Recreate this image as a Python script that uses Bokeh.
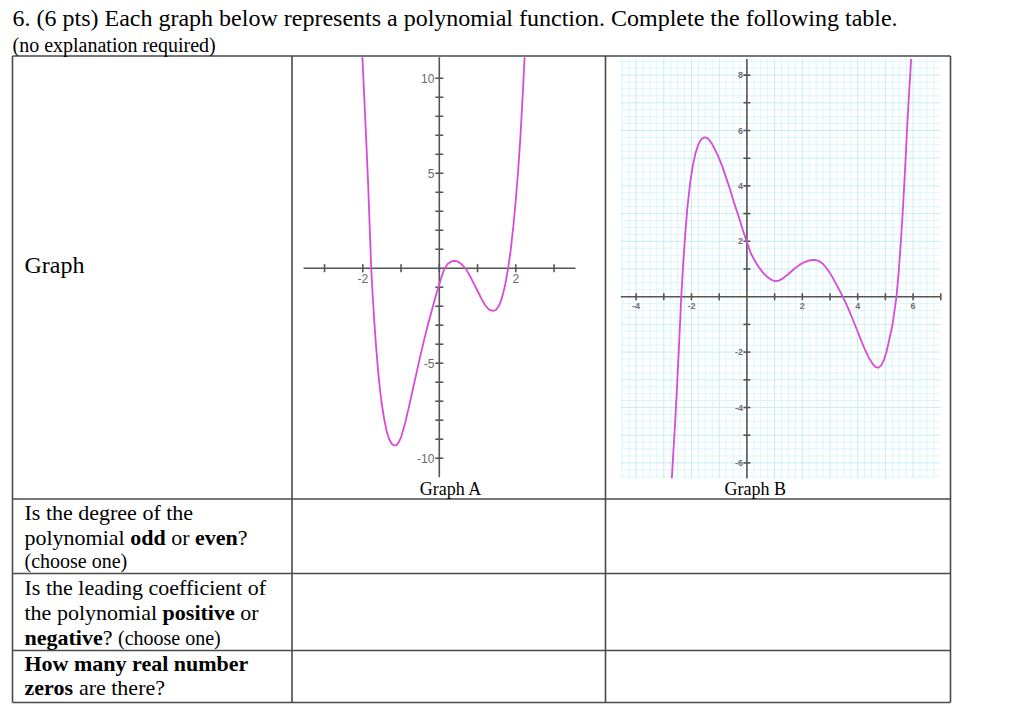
import numpy as np
from bokeh.plotting import figure
from bokeh.models import Range1d
from bokeh.core.properties import value
from bokeh.embed import file_html
from bokeh.resources import INLINE

W, H = 1023, 717

# ---------------- data ----------------
# Graph A (even degree polynomial)
graph_a_x = [-2.01, -1.96, -1.91, -1.86, -1.82, -1.78, -1.74, -1.70, -1.65, -1.60,
             -1.55, -1.50, -1.44, -1.38, -1.31, -1.24, -1.18, -1.12, -1.06, -1.00,
             -0.90, -0.80, -0.70, -0.60, -0.50, -0.40, -0.30, -0.20, -0.10, 0.00,
             0.07, 0.14, 0.22, 0.30, 0.38, 0.46, 0.54, 0.62, 0.70, 0.80,
             0.90, 1.00, 1.10, 1.20, 1.30, 1.40, 1.48, 1.56, 1.64, 1.72,
             1.80, 1.87, 1.94, 2.00, 2.06, 2.12, 2.17, 2.23]
graph_a_y = [11.1, 8.9, 6.7, 4.4, 2.2, 0.0, -1.5, -2.8, -4.2, -5.4,
             -6.4, -7.2, -7.95, -8.55, -9.0, -9.25, -9.33, -9.32, -9.15, -8.9,
             -8.2, -7.35, -6.45, -5.55, -4.65, -3.8, -3.0, -2.25, -1.5, -0.84,
             -0.38, 0.0, 0.22, 0.34, 0.38, 0.37, 0.28, 0.13, -0.05, -0.4,
             -0.8, -1.2, -1.6, -1.95, -2.18, -2.25, -2.2, -1.98, -1.55, -0.9,
             0.0, 1.0, 2.3, 3.6, 5.1, 6.9, 8.7, 11.1]

# Graph B (odd degree polynomial)
graph_b_x = [-2.71, -2.66, -2.60, -2.53, -2.45, -2.37, -2.30, -2.23, -2.15, -2.05,
             -1.95, -1.85, -1.75, -1.65, -1.55, -1.45, -1.35, -1.25, -1.15, -1.05,
             -0.90, -0.75, -0.60, -0.45, -0.30, -0.15, 0.00, 0.15, 0.30, 0.45,
             0.60, 0.75, 0.90, 1.02, 1.15, 1.30, 1.50, 1.70, 1.90, 2.10,
             2.30, 2.45, 2.60, 2.75, 2.90, 3.05, 3.20, 3.35, 3.50, 3.65,
             3.80, 3.95, 4.10, 4.25, 4.40, 4.55, 4.65, 4.75, 4.85, 4.95,
             5.05, 5.15, 5.25, 5.33, 5.40, 5.48, 5.56, 5.64, 5.72, 5.80,
             5.87, 5.93]
graph_b_y = [-6.56, -5.7, -4.7, -3.4, -1.75, 0.0, 1.2, 2.2, 3.2, 4.1,
             4.75, 5.2, 5.5, 5.68, 5.75, 5.74, 5.65, 5.5, 5.3, 5.1,
             4.74, 4.3, 3.85, 3.35, 2.9, 2.42, 1.97, 1.55, 1.27, 1.04,
             0.84, 0.7, 0.6, 0.56, 0.58, 0.66, 0.82, 1.0, 1.15, 1.26,
             1.32, 1.33, 1.29, 1.18, 1.0, 0.77, 0.5, 0.22, -0.08, -0.4,
             -0.76, -1.14, -1.52, -1.88, -2.2, -2.44, -2.54, -2.56, -2.48, -2.28,
             -1.95, -1.5, -1.05, -0.5, 0.0, 0.9, 2.0, 3.3, 4.8, 6.4,
             7.6, 8.58]

a_xtick_pos = [-2, 2]
a_xtick_labels = ["-2", "2"]
a_ytick_pos = [10, 5, -5, -10]
a_ytick_labels = ["10", "5", "-5", "-10"]

b_xtick_pos = [-4, -2, 2, 4, 6]
b_xtick_labels = ["-4", "-2", "2", "4", "6"]
b_ytick_pos = [8, 6, 4, 2, -2, -4, -6]
b_ytick_labels = ["8", "6", "4", "2", "-2", "-4", "-6"]

# ---------------- page figure ----------------
p = figure(width=W, height=H, x_range=Range1d(0, W), y_range=Range1d(H, 0),
           output_backend="svg", toolbar_location=None, min_border=0,
           x_axis_type=None, y_axis_type=None, outline_line_color=None,
           background_fill_color="white", border_fill_color="white")

# graph coordinate systems: origin pixel and pixels per unit
AOX, AOY, ASX, ASY = 438.8, 267.7, 38.25, 19.0
BOX, BOY, BS = 746.4, 296.2, 27.7
p.extra_x_ranges = {
    "ax": Range1d((0 - AOX) / ASX, (W - AOX) / ASX),
    "bx": Range1d((0 - BOX) / BS, (W - BOX) / BS),
}
p.extra_y_ranges = {
    "ay": Range1d((AOY - H) / ASY, AOY / ASY),
    "by": Range1d((BOY - H) / BS, BOY / BS),
}
A = dict(x_range_name="ax", y_range_name="ay")
B = dict(x_range_name="bx", y_range_name="by")

# ---- Graph B grid ----
gx0, gx1, gy0, gy1 = -4.56, 6.99, -6.56, 8.6
vx = np.arange(-4.5, 7.0, 0.25)
hy = np.arange(-6.5, 8.6, 0.25)
minor_v = [v for v in vx if abs(v - round(v)) > 1e-9]
major_v = [v for v in vx if abs(v - round(v)) < 1e-9]
minor_h = [v for v in hy if abs(v - round(v)) > 1e-9]
major_h = [v for v in hy if abs(v - round(v)) < 1e-9]
p.segment(x0=minor_v, x1=minor_v, y0=gy0, y1=gy1, line_color="#dbf5f9", line_width=1, **B)
p.segment(x0=gx0, x1=gx1, y0=minor_h, y1=minor_h, line_color="#dbf5f9", line_width=1, **B)
p.segment(x0=major_v, x1=major_v, y0=gy0, y1=gy1, line_color="#c4edf4", line_width=1, **B)
p.segment(x0=gx0, x1=gx1, y0=major_h, y1=major_h, line_color="#c4edf4", line_width=1, **B)

# ---- Graph A axes ----
axis_col = "#555555"
p.segment(x0=[-3.55, 0], x1=[3.56, 0], y0=[0, -11.0], y1=[0, 11.1],
          line_color=axis_col, line_width=1.6, **A)
p.scatter(x=list(range(-3, 4)), y=0, marker="dash", size=8, angle=np.pi / 2,
          line_color=axis_col, line_width=1.6, **A)
p.scatter(x=0, y=[v for v in range(-10, 11) if v != 0], marker="dash", size=8,
          line_color=axis_col, line_width=1.6, **A)
p.text(x=0, y=a_ytick_pos, text=a_ytick_labels, x_offset=-5, text_align="right",
       text_baseline="middle", text_font=value("Liberation Sans"), text_font_size="12px",
       text_color="#6a6a6a", **A)
p.text(x=a_xtick_pos, y=0, text=a_xtick_labels, y_offset=6, text_align="center",
       text_baseline="top", text_font=value("Liberation Sans"), text_font_size="12px",
       text_color="#6a6a6a", **A)

# ---- Graph B axes ----
p.segment(x0=[-4.55, 0], x1=[7.0, 0], y0=[0, -6.56], y1=[0, 8.58],
          line_color=axis_col, line_width=1.6, **B)
p.scatter(x=[v for v in range(-4, 8) if v != 0], y=0, marker="dash", size=7,
          angle=np.pi / 2, line_color=axis_col, line_width=1.6, **B)
p.scatter(x=0, y=[v for v in range(-6, 9) if v != 0], marker="dash", size=7,
          line_color=axis_col, line_width=1.6, **B)
p.text(x=0, y=b_ytick_pos, text=b_ytick_labels, x_offset=-4, text_align="right",
       text_baseline="middle", text_font=value("Liberation Sans"), text_font_size="9px",
       text_font_style="bold", text_color="#707070", **B)
p.text(x=b_xtick_pos, y=0, text=b_xtick_labels, y_offset=6, text_align="center",
       text_baseline="top", text_font=value("Liberation Sans"), text_font_size="9px",
       text_font_style="bold", text_color="#707070", **B)

# ---- curves ----
curve_col = "#d84ad8"
p.line(graph_a_x, graph_a_y, line_color=curve_col, line_width=1.8, line_join="round", **A)
p.line(graph_b_x, graph_b_y, line_color=curve_col, line_width=1.8, line_join="round", **B)

# ---- table lines ----
tl_x0, tl_x1 = 12, 950
col_x = [12, 291.5, 605, 950]
row_y = [55.5, 498.5, 573, 650, 702]
p.segment(x0=tl_x0, x1=tl_x1, y0=row_y, y1=row_y, line_color="#4a4a4a", line_width=1.6)
p.segment(x0=col_x, x1=col_x, y0=row_y[0], y1=row_y[-1], line_color="#4a4a4a", line_width=1.6)

# ---- texts ----
SERIF = value("Liberation Serif")
runs = [
    (12, 17, "6. (6 pts) Each graph below represents a polynomial function. Complete the following table.", 24, "normal"),
    (12, 44, "(no explanation required)", 20, "normal"),
    (24, 264, "Graph", 24, "normal"),
    (24, 512, "Is the degree of the", 22, "normal"),
    (24, 537, "polynomial", 22, "normal"),
    (129.7, 537, "odd", 22, "bold"),
    (170.7, 537, "or", 22, "normal"),
    (194.5, 537, "even", 22, "bold"),
    (237.3, 537, "?", 22, "normal"),
    (24, 560, "(choose one)", 20, "normal"),
    (24, 587, "Is the leading coefficient of", 22, "normal"),
    (24, 612, "the polynomial", 22, "normal"),
    (162.1, 612, "positive", 22, "bold"),
    (239.7, 612, "or", 22, "normal"),
    (24, 637, "negative", 22, "bold"),
    (102.2, 637, "?", 22, "normal"),
    (117.5, 637, "(choose one)", 20, "normal"),
    (24, 663, "How many real number", 22, "bold"),
    (24, 687, "zeros", 22, "bold"),
    (78.4, 687, "are there?", 22, "normal"),
]
for (tx, ty, tt, ts, st) in runs:
    p.text(x=[tx], y=[ty], text=[tt], text_font=SERIF, text_font_size=f"{ts}px",
           text_font_style=st, text_baseline="alphabetic", text_align="left",
           text_color="black")

p.text(x=[450.5, 754.7], y=[488, 488], text=["Graph A", "Graph B"], text_font=SERIF,
       text_font_size="18px", text_baseline="alphabetic", text_align="center",
       text_color="black")

open("out.html", "w").write(file_html(p, INLINE))
